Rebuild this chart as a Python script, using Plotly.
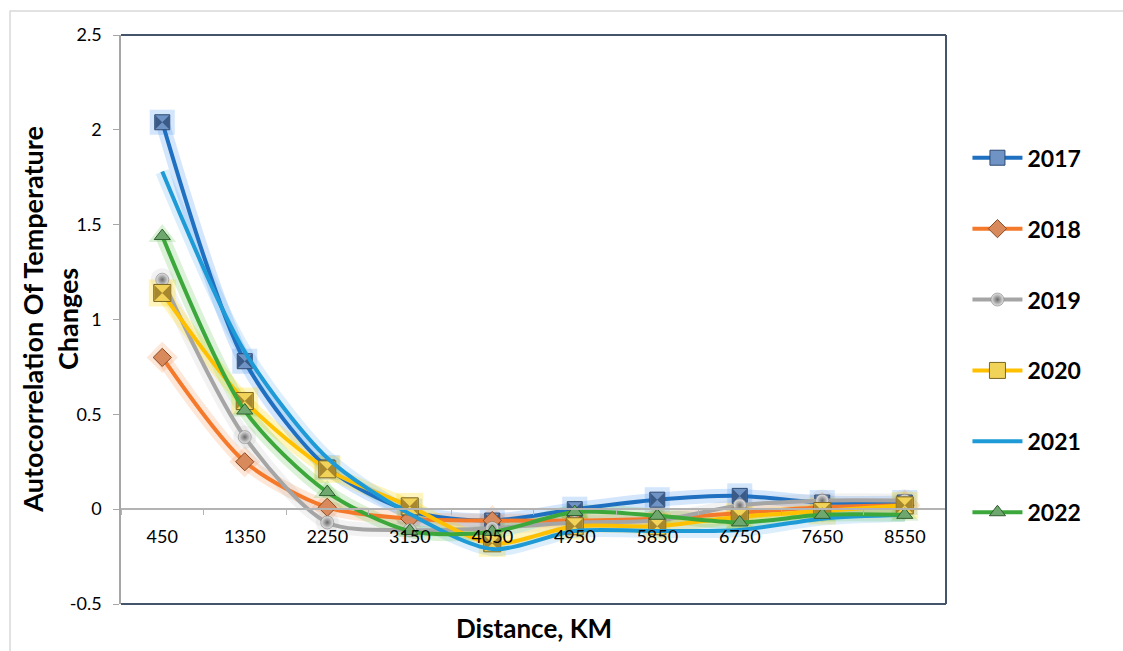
import plotly.graph_objects as go

distance = ["450", "1350", "2250", "3150", "4050", "4950", "5850", "6750", "7650", "8550"]
years = ["2017", "2018", "2019", "2020", "2021", "2022"]

y2017 = [2.04, 0.78, 0.22, -0.01, -0.06, 0.00, 0.05, 0.07, 0.035, 0.035]
y2018 = [0.80, 0.25, 0.01, -0.05, -0.06, -0.06, -0.05, -0.02, 0.01, 0.02]
y2019 = [1.21, 0.38, -0.07, -0.11, -0.10, -0.07, -0.06, 0.02, 0.045, 0.045]
y2020 = [1.14, 0.57, 0.21, 0.015, -0.18, -0.09, -0.09, -0.04, -0.01, 0.02]
y2021 = [1.78, 0.83, 0.27, -0.025, -0.21, -0.115, -0.115, -0.11, -0.05, -0.03]
y2022 = [1.44, 0.52, 0.09, -0.115, -0.12, -0.015, -0.035, -0.07, -0.03, -0.03]

ytick_vals = [-0.5, 0, 0.5, 1, 1.5, 2, 2.5]
ytick_text = ["-0.5", "0", "0.5", "1", "1.5", "2", "2.5"]

series = [y2017, y2018, y2019, y2020, y2021, y2022]
line_colors = ["#1F70C1", "#F5792A", "#A5A5A5", "#FFC000", "#1E9BD7", "#3CA83C"]
glow_colors = ["rgba(60,140,240,0.22)", "rgba(245,121,42,0.18)", "rgba(165,165,165,0.15)",
               "rgba(255,215,0,0.26)", "rgba(80,170,240,0.20)", "rgba(80,190,60,0.20)"]
marker_specs = [
    dict(symbol="square", size=15, color="#6F93C4", line=dict(color="#2E4A72", width=1)),
    dict(symbol="diamond", size=14, color="#D98A5C", line=dict(color="#8A4A24", width=1)),
    dict(symbol="circle", size=13, color="#E6E6E6", gradient=dict(type="radial", color="#6A6A6A"),
         line=dict(color="#6E6E6E", width=0.5)),
    dict(symbol="square", size=17, color="#F2D35A", line=dict(color="#7A6420", width=1)),
    None,
    dict(symbol="triangle-up", size=14, color="#6FA86F", line=dict(color="#2F5E2F", width=1)),
]
bevel_colors = ["#3A5A88", "#B46A3A", None, "#A8882E", None, "#3E6E3E"]

fig = go.Figure()

# glow layers
for ys, gc, ms in zip(series, glow_colors, marker_specs):
    fig.add_trace(go.Scatter(
        x=distance, y=ys, mode="lines", showlegend=False, hoverinfo="skip",
        line=dict(color=gc, width=14, shape="spline", smoothing=0.8)))
    if ms is not None:
        fig.add_trace(go.Scatter(
            x=distance, y=ys, mode="markers", showlegend=False, hoverinfo="skip",
            marker=dict(symbol=ms["symbol"], size=ms["size"] + 10, color=gc)))

# main series
for i, (name, ys, lc, ms) in enumerate(zip(years, series, line_colors, marker_specs)):
    mode = "lines+markers" if ms is not None else "lines"
    kw = dict(marker=ms) if ms is not None else {}
    fig.add_trace(go.Scatter(
        x=distance, y=ys, mode=mode, name=name, legendgroup=name,
        line=dict(color=lc, width=4, shape="spline", smoothing=0.8), **kw))
    if bevel_colors[i] is not None and ms["symbol"] == "square":
        fig.add_trace(go.Scatter(
            x=distance, y=ys, mode="markers", showlegend=False, legendgroup=name, hoverinfo="skip",
            marker=dict(symbol="bowtie", size=ms["size"] - 1, color=bevel_colors[i])))

ypos = (0 - ytick_vals[0]) / (ytick_vals[-1] - ytick_vals[0])

frame = "#44546A"
shapes = [
    dict(type="line", xref="paper", yref="paper", x0=0, x1=1, y0=1, y1=1, line=dict(color=frame, width=2)),
    dict(type="line", xref="paper", yref="paper", x0=1, x1=1, y0=0, y1=1, line=dict(color=frame, width=2)),
    dict(type="line", xref="paper", yref="paper", x0=0, x1=1, y0=0, y1=0, line=dict(color=frame, width=2)),
    dict(type="rect", xref="paper", yref="paper", x0=-0.1345, x1=1.25, y0=-0.2, y1=1.042,
         line=dict(color="#D9D9D9", width=1.5), layer="below"),
]

fig.update_layout(
    width=1123, height=651,
    margin=dict(l=121, r=177, t=35, b=47),
    paper_bgcolor="white", plot_bgcolor="white",
    font=dict(family="Lato", size=18, color="black"),
    shapes=shapes,
    showlegend=True,
    legend=dict(x=1.026, y=0.822, xanchor="left", yanchor="top",
                font=dict(family="Lato", size=23, color="black", weight="bold"),
                tracegroupgap=38, itemwidth=50, bgcolor="rgba(0,0,0,0)"),
    xaxis=dict(type="category", range=[-0.5, 9.5], anchor="free", position=ypos,
               showline=True, linecolor="#B3B3B3", linewidth=1.5,
               ticks="outside", ticklen=5, tickcolor="#B3B3B3", tickson="boundaries",
               ticklabelstandoff=11,
               showgrid=False, zeroline=False, tickfont=dict(family="Lato", size=18)),
    yaxis=dict(range=[ytick_vals[0], ytick_vals[-1]], tickvals=ytick_vals, ticktext=ytick_text,
               showline=True, linecolor="#A6A6A6", linewidth=1.5,
               ticks="outside", ticklen=6, tickcolor="#A6A6A6", ticklabelstandoff=8,
               showgrid=False, zeroline=False, tickfont=dict(family="Lato", size=18)),
    annotations=[
        dict(text="<b>Autocorrelation Of Temperature<br>Changes</b>", xref="paper", yref="paper",
             x=-0.087, y=0.5, xanchor="center", yanchor="middle", textangle=-90, showarrow=False,
             font=dict(family="Lato", size=27, color="black"), align="center"),
        dict(text="<b>Distance, KM</b>", xref="paper", yref="paper",
             x=0.5, y=-0.042, xanchor="center", yanchor="middle", showarrow=False,
             font=dict(family="Lato", size=26, color="black")),
    ],
)

fig.write_html("out.html")
